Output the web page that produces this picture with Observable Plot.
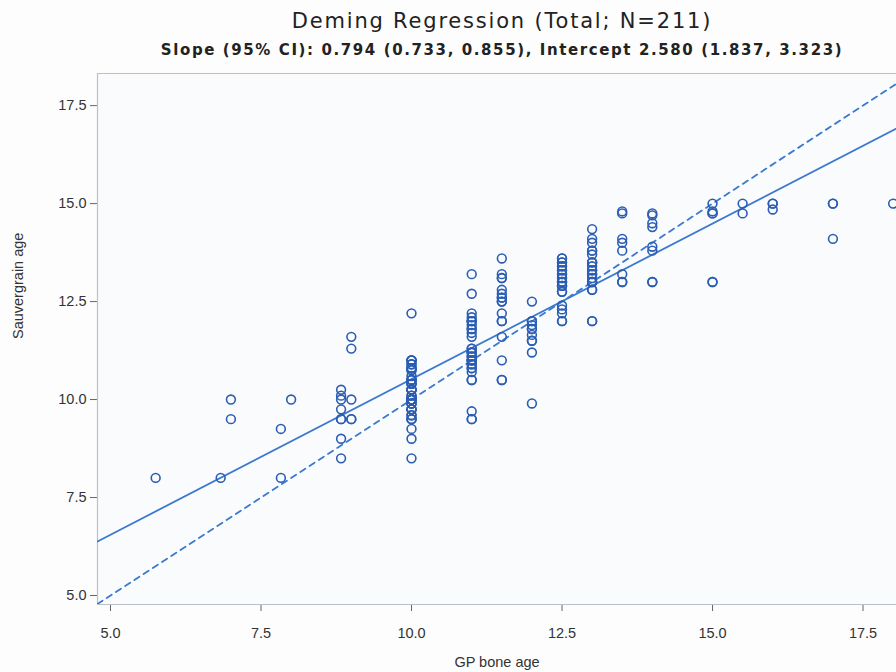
<!DOCTYPE html>
<html><head><meta charset="utf-8">
<script src="https://cdn.jsdelivr.net/npm/d3@7"></script>
<script src="https://cdn.jsdelivr.net/npm/@observablehq/plot@0.6"></script>
<style>
body{margin:0;background:#fdfdfd;width:896px;height:672px;overflow:hidden;font-family:"DejaVu Sans",sans-serif;}
#head{height:64px;position:relative;}
#title{position:absolute;top:9px;left:0;width:896px;padding-left:108px;box-sizing:border-box;text-align:center;font-size:21px;letter-spacing:1.8px;color:#222;white-space:nowrap;}
#sub{position:absolute;top:41px;left:0;width:896px;padding-left:108px;box-sizing:border-box;text-align:center;font-size:15px;font-weight:bold;letter-spacing:1.6px;color:#222;white-space:nowrap;}
#chart svg{display:block;}
</style></head>
<body>
<div id="head"><div id="title">Deming Regression (Total; N=211)</div><div id="sub">Slope (95% CI): 0.794 (0.733, 0.855), Intercept 2.580 (1.837, 3.323)</div></div>
<div id="chart"></div>
<script>
// GP bone age columns and Sauvergrain ages observed in each column
const gpColumns = [5.75, 6.83, 7.0, 7.83, 8.0, 8.83, 9.0, 10.0, 11.0, 11.5, 12.0, 12.5, 13.0, 13.5, 14.0, 15.0, 15.5, 16.0, 17.0, 18.0];
const sauvergrainByColumn = [
  [8.0],
  [8.0],
  [10.0, 9.5],
  [9.25, 8.0],
  [10.0],
  [10.25, 10.1, 10.0, 9.75, 9.5, 9.5, 9.0, 8.5],
  [11.6, 11.3, 10.0, 9.5, 9.5],
  [12.2, 11.0, 11.0, 11.0, 11.0, 10.9, 10.9, 10.8, 10.8, 10.8, 10.75, 10.75, 10.6, 10.5, 10.5, 10.5, 10.5, 10.4, 10.4, 10.4, 10.25, 10.25, 10.25, 10.25, 10.1, 10.1, 10.0, 10.0, 10.0, 10.0, 10.0, 10.0, 10.0, 10.0, 10.0, 10.0, 10.0, 9.9, 9.9, 9.9, 9.75, 9.75, 9.75, 9.75, 9.6, 9.6, 9.5, 9.5, 9.5, 9.25, 9.0, 8.5],
  [13.2, 12.7, 12.2, 12.1, 12.0, 12.0, 12.0, 11.9, 11.8, 11.8, 11.7, 11.6, 11.3, 11.3, 11.2, 11.2, 11.2, 11.1, 11.1, 11.0, 11.0, 11.0, 11.0, 10.9, 10.9, 10.8, 10.8, 10.7, 10.5, 10.5, 9.7, 9.5, 9.5],
  [13.6, 13.2, 13.1, 13.1, 12.8, 12.7, 12.6, 12.6, 12.5, 12.5, 12.2, 12.0, 12.0, 11.6, 11.0, 10.5, 10.5],
  [12.5, 12.0, 12.0, 11.9, 11.8, 11.8, 11.65, 11.5, 11.5, 11.2, 9.9],
  [13.6, 13.6, 13.5, 13.5, 13.4, 13.4, 13.3, 13.3, 13.2, 13.2, 13.1, 13.1, 13.0, 13.0, 13.0, 12.9, 12.9, 12.9, 12.75, 12.75, 12.4, 12.3, 12.2, 12.0, 12.0],
  [14.35, 14.1, 14.0, 13.8, 13.8, 13.7, 13.5, 13.5, 13.5, 13.4, 13.3, 13.3, 13.2, 13.2, 13.1, 13.0, 13.0, 13.0, 12.8, 12.8, 12.0, 12.0],
  [14.8, 14.75, 14.1, 14.0, 13.8, 13.2, 13.0, 13.0],
  [14.75, 14.7, 14.5, 14.4, 13.9, 13.8, 13.0, 13.0],
  [15.0, 14.8, 14.75, 14.75, 13.0, 13.0],
  [15.0, 14.75],
  [15.0, 15.0, 14.85],
  [15.0, 15.0, 14.1],
  [15.0]
];
const slope = 0.794;
const intercept = 2.580;
const xTicks = [5.0, 7.5, 10.0, 12.5, 15.0, 17.5];
const yTicks = [5.0, 7.5, 10.0, 12.5, 15.0, 17.5];
const xLabel = "GP bone age";
const yLabel = "Sauvergrain age";
const xDomain = [4.784, 18.056];
const yDomain = [4.77, 18.32];

const points = gpColumns.flatMap((gp, i) => sauvergrainByColumn[i].map(s => ({gp, s})));
const fitLine = xDomain.map(gp => ({gp, s: intercept + slope * gp}));
const identity = xDomain.map(gp => ({gp, s: gp}));
const fmt = d3.format(".1f");
const blue = "#2a5db3";
const lineBlue = "#3b79cf";
const border = "#b8c0cc";
const font = "'Liberation Sans', Arial, sans-serif";

const chart = Plot.plot({
  width: 896, height: 608,
  marginLeft: 97, marginRight: 0, marginTop: 9, marginBottom: 68,
  style: {fontFamily: font, fontSize: "14px", color: "#333", background: "transparent"},
  x: {domain: xDomain},
  y: {domain: yDomain},
  marks: [
    Plot.frame({fill: "#fafbfd", stroke: null}),
    Plot.axisX({ticks: xTicks, tickFormat: fmt, tickSize: 7, tickPadding: 16, label: null, stroke: "#666", fontSize: 14.5}),
    Plot.axisY({ticks: yTicks, tickFormat: fmt, tickSize: 7, tickPadding: 4, label: null, stroke: "#666", fontSize: 14.5}),
    Plot.text([xLabel], {frameAnchor: "bottom", dy: 62, fontSize: 14.5, fill: "#333"}),
    Plot.text([yLabel], {frameAnchor: "left", dx: -79, rotate: -90, fontSize: 14.5, fill: "#333"}),
    Plot.ruleX([xDomain[0]], {stroke: border, strokeWidth: 1.2}),
    Plot.ruleY(yDomain, {stroke: border, strokeWidth: 1.2}),
    Plot.line(identity, {x: "gp", y: "s", stroke: lineBlue, strokeWidth: 1.8, strokeDasharray: "6,5", clip: true}),
    Plot.line(fitLine, {x: "gp", y: "s", stroke: lineBlue, strokeWidth: 1.8, clip: true}),
    Plot.dot(points, {x: "gp", y: "s", r: 4.4, stroke: blue, strokeWidth: 1.6, fill: "none"})
  ]
});
document.getElementById("chart").appendChild(chart);
</script>
</body></html>
